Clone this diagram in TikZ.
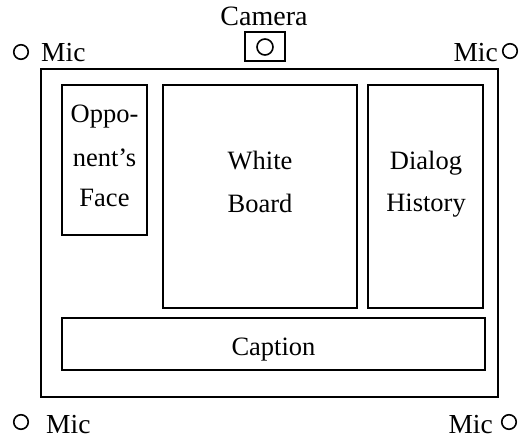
\documentclass[tikz,border=0pt]{standalone}
\usepackage{fontspec}
\setmainfont{Liberation Serif}
\begin{document}
\begin{tikzpicture}[x=1pt,y=-1pt,
  box/.style={draw,line width=1.6pt,inner sep=0pt},
  frame/.style={draw,line width=1.3pt,inner sep=0pt},
  txt/.style={anchor=base,inner sep=0pt,font=\fontsize{26.5}{30}\selectfont},
  mictxt/.style={anchor=base west,inner sep=0pt,font=\fontsize{27.5}{30}\selectfont},
  micdot/.style={draw,circle,line width=1.6pt,minimum size=14.5pt,inner sep=0pt}]
\useasboundingbox (0,0) rectangle (524,438);
% outer screen
\node[frame,minimum width=457pt,minimum height=328pt] (screen) at (269.5,233) {};
% camera
\node[txt,font=\fontsize{28}{30}\selectfont] (camtxt) at (264,26) {Camera};
\node[box,minimum width=40pt,minimum height=29pt] (cam) at (265,46.5) {};
\node[draw,circle,line width=1.6pt,minimum size=16pt,inner sep=0pt] (lens) at (265,47) {};
% mics
\node[micdot] (m1) at (21,52) {};
\node[mictxt] (m1t) at (41,62) {Mic};
\node[micdot] (m2) at (510,51) {};
\node[mictxt,anchor=base east] (m2t) at (498,62) {Mic};
\node[micdot] (m3) at (21,422) {};
\node[mictxt] (m3t) at (46,433) {Mic};
\node[micdot] (m4) at (509,422) {};
\node[mictxt,anchor=base east] (m4t) at (493,433) {Mic};
% panels
\node[box,minimum width=85pt,minimum height=150pt] (face) at (104.5,160) {};
\node[txt] (f1) at (104.5,123) {Oppo-};
\node[txt] (f2) at (104.5,167) {nent's};
\node[txt] (f3) at (104.5,207) {Face};
\node[box,minimum width=194pt,minimum height=223pt] (wb) at (260,196.5) {};
\node[txt] (w1) at (260,170) {White};
\node[txt] (w2) at (260,213) {Board};
\node[box,minimum width=115pt,minimum height=223pt] (dh) at (425.5,196.5) {};
\node[txt] (d1) at (426,170) {Dialog};
\node[txt] (d2) at (426,212) {History};
\node[box,minimum width=423pt,minimum height=52pt] (cap) at (273.5,344) {};
\node[txt] (c1) at (273.5,355) {Caption};
\end{tikzpicture}
\end{document}
